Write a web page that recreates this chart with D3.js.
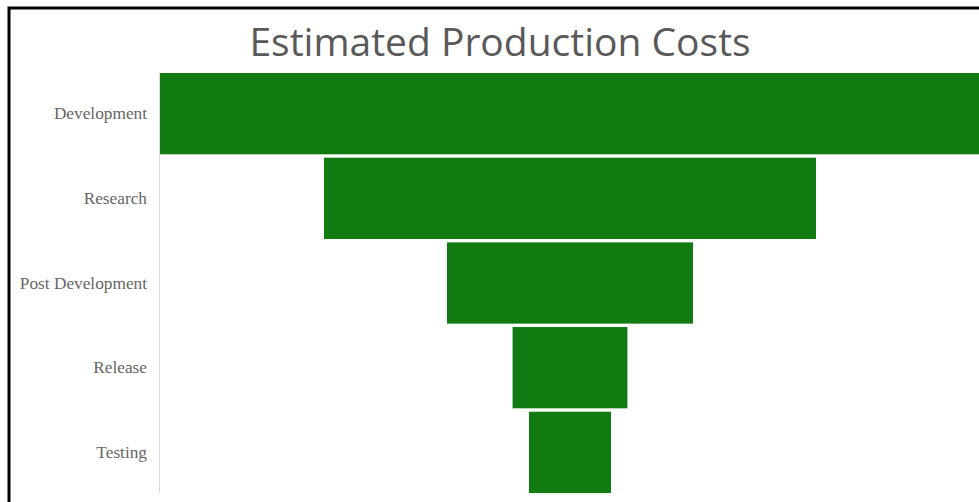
<!DOCTYPE html>
<html>
<head>
<meta charset="utf-8">
<script src="https://cdn.jsdelivr.net/npm/d3@7"></script>
<style>
  body { margin: 0; background: #fff; }
</style>
</head>
<body>
<script>
// Funnel of estimated production costs
var stages = ["Development", "Research", "Post Development", "Release", "Testing"];
var costs = [50000, 30000, 15000, 7000, 5000];

var width = 979;
var height = 502;

var svg = d3.select("body")
            .append("svg")
            .attr("width", width)
            .attr("height", height);

// Frame around the chart (cut off at the right and bottom)
svg.append("rect")
    .attr("x", 9)
    .attr("y", 8)
    .attr("width", 1000)
    .attr("height", 520)
    .attr("fill", "none")
    .attr("stroke", "#000")
    .attr("stroke-width", 3);

// Title
svg.append("text")
    .attr("x", 500)
    .attr("y", 56)
    .attr("text-anchor", "middle")
    .attr("font-family", "'Open Sans', sans-serif")
    .attr("font-size", "39px")
    .attr("fill", "#595959")
    .text("Estimated Production Costs");

var plotLeft = 160;
var center = 570;

var yScale = d3.scaleBand()
                .domain(stages)
                .range([73, 493])
                .paddingInner(0.04)
                .paddingOuter(0);

var wScale = d3.scaleLinear()
                .domain([0, d3.max(costs)])
                .range([0, 820]);

// Bars centered around the funnel axis
svg.selectAll("rect.bar")
    .data(stages)
    .enter()
    .append("rect")
    .attr("class", "bar")
    .attr("x", function(d, i) { return center - wScale(costs[i]) / 2; })
    .attr("y", function(d) { return yScale(d); })
    .attr("width", function(d, i) { return wScale(costs[i]); })
    .attr("height", yScale.bandwidth())
    .attr("fill", "#117a10");

// Category axis
var yAxis = d3.axisLeft(yScale).tickSize(0).tickPadding(12);
var gAxis = svg.append("g")
    .attr("transform", "translate(" + (plotLeft - 1) + ",0)")
    .call(yAxis);

gAxis.select(".domain")
    .attr("stroke", "#d9d9d9")
    .attr("d", "M0.5,73V493");

gAxis.selectAll("text")
    .attr("font-family", "'Liberation Serif', serif")
    .attr("font-size", "17.3px")
    .attr("fill", "#666");
</script>
</body>
</html>
